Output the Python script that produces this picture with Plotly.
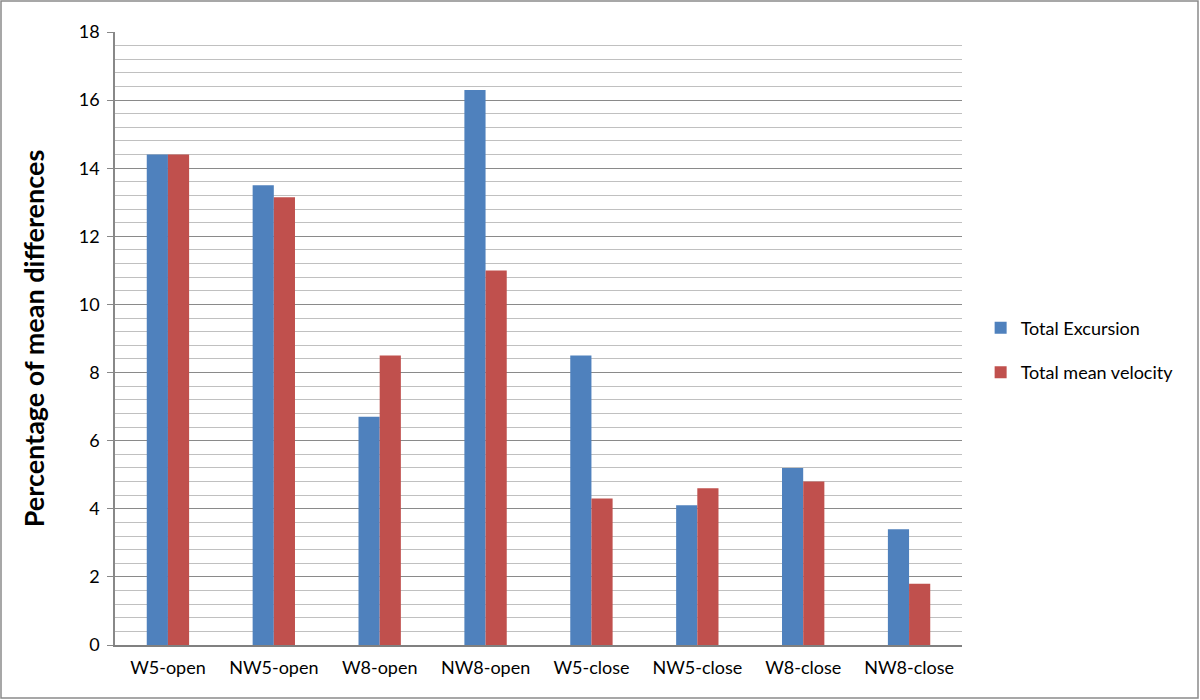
import plotly.graph_objects as go

categories = ["W5-open", "NW5-open", "W8-open", "NW8-open", "W5-close", "NW5-close", "W8-close", "NW8-close"]
total_excursion = [14.4, 13.5, 6.7, 16.3, 8.5, 4.1, 5.2, 3.4]
total_mean_velocity = [14.4, 13.15, 8.5, 11.0, 4.3, 4.6, 4.8, 1.8]
y_ticks = [0, 2, 4, 6, 8, 10, 12, 14, 16, 18]

FONT = "Lato, Open Sans, sans-serif"

fig = go.Figure()
fig.add_trace(go.Bar(name="Total Excursion", x=categories, y=total_excursion, legendgroup="a",
                     marker=dict(color="#4F81BD", line=dict(width=0))))
fig.add_trace(go.Bar(name="Total mean velocity", x=categories, y=total_mean_velocity, legendgroup="b",
                     marker=dict(color="#C0504D", line=dict(width=0))))

L, R, T, B = 115, 238, 32, 55
W, H = 1200, 700
pw, ph = W - L - R, H - T - B

fig.update_layout(
    width=W, height=H,
    margin=dict(l=L, r=R, t=T, b=B),
    paper_bgcolor="white", plot_bgcolor="white",
    barmode="group", bargap=0.6, bargroupgap=0,
    font=dict(family=FONT, color="black", size=18),
    legend=dict(x=1.022, y=0.481, xanchor="left", yanchor="middle",
                font=dict(size=18, family=FONT), tracegroupgap=18,
                itemwidth=30),
    xaxis=dict(showgrid=False, showline=True, linecolor="#808080", linewidth=1.5,
               ticks="", tickfont=dict(size=18, family=FONT), ticklabelstandoff=6),
    yaxis=dict(range=[0, 18], tickvals=y_ticks, showgrid=True, gridcolor="#8a8a8a", gridwidth=1.3,
               showline=True, linecolor="#888888", linewidth=1.5,
               ticks="outside", ticklen=6, tickcolor="#888888",
               tickfont=dict(size=18, family=FONT), ticklabelstandoff=4,
               minor=dict(dtick=0.4, showgrid=True, gridcolor="#c0c0c0", gridwidth=1),
               title=dict(text="<b>Percentage of mean differences</b>",
                          font=dict(size=27, family=FONT), standoff=26),
               zeroline=False),
    shapes=[dict(type="rect", xref="paper", yref="paper",
                 x0=(1 - L) / pw, x1=(W - 2 - L) / pw,
                 y0=(H - B - (H - 2)) / ph, y1=(H - B - 1) / ph,
                 line=dict(color="#8a8a8a", width=1.5), fillcolor="rgba(0,0,0,0)")],
)

fig.write_html("out.html", config={"displayModeBar": False},
               post_script="document.body.style.margin='0';document.body.style.overflow='hidden';")
